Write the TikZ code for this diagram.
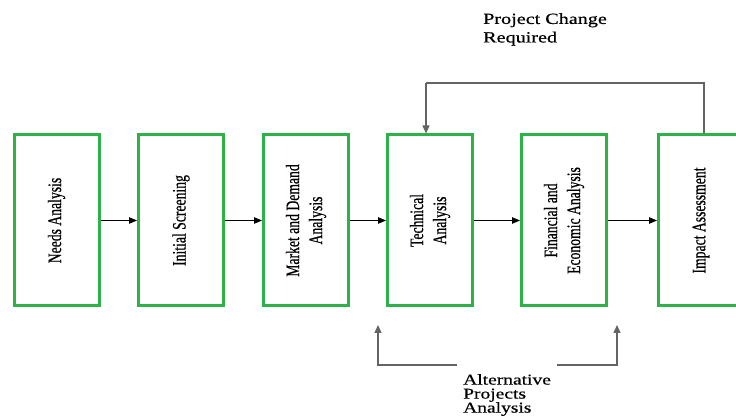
\documentclass[tikz,border=0pt]{standalone}
\usepackage{fontspec}
\setmainfont{Liberation Serif}
\newfontfamily\narrowserif[FakeStretch=0.72,FakeBold=0.6]{Liberation Serif}
\newfontfamily\wideserif[FakeStretch=1.3,FakeBold=0.6]{Liberation Serif}
\usetikzlibrary{arrows.meta}
\definecolor{boxgreen}{RGB}{44,178,72}
\definecolor{linegray}{RGB}{100,100,100}
\begin{document}
\begin{tikzpicture}[x=1pt,y=1pt,
  stage/.style={draw=boxgreen, line width=3pt, fill=white, rotate=90,
    minimum width=171pt, minimum height=85pt, inner sep=2pt,
    font=\narrowserif\fontsize{19}{23}\selectfont, align=center},
  flow/.style={draw=black, line width=0.8pt, -{Triangle[length=8pt,width=6.5pt]}},
  back/.style={draw=linegray, line width=1.4pt},
  backarr/.style={back, -{Triangle[length=8pt,width=7pt]}},
  lbl/.style={font=\wideserif\fontsize{15.5}{18.5}\selectfont, align=left, inner sep=0pt}]
\useasboundingbox (0,0) rectangle (736,419);
\node[stage] (n1) at (56.5,198.5) {Needs Analysis};
\node[stage] (n2) at (181,198.5) {Initial Screening};
\node[stage] (n3) at (306,198.5) {Market and Demand\\Analysis};
\node[stage] (n4) at (430,198.5) {Technical\\Analysis};
\node[stage] (n5) at (564,198.5) {Financial and\\Economic Analysis};
\node[stage] (n6) at (701,198.5) {Impact Assessment};
\draw[flow] (n1) -- (n2);
\draw[flow] (n2) -- (n3);
\draw[flow] (n3) -- (n4);
\draw[flow] (n4) -- (n5);
\draw[flow] (n5) -- (n6);
% feedback loop
\coordinate (fbR) at (704,336);
\coordinate (fbL) at (426,336);
\draw[back] (n6.east -| fbR) -- (fbR) -- (fbL);
\draw[backarr] (fbL) -- (n4.east -| fbL);
\node[lbl, anchor=north west] (pcr) at (483,406) {Project Change\\Required};
% alternative projects
\node[lbl, anchor=north west, font=\wideserif\fontsize{15}{14}\selectfont] (apa) at (463,45) {Alternative\\Projects\\Analysis};
\coordinate (lt) at (378,94);
\coordinate (lb) at (378,54);
\coordinate (le) at (457,54);
\coordinate (rt) at (617,94);
\coordinate (rb) at (617,54);
\coordinate (rs) at (557,54);
\draw[backarr] (le) -- (lb) -- (lt);
\draw[backarr] (rs) -- (rb) -- (rt);
\end{tikzpicture}
\end{document}
